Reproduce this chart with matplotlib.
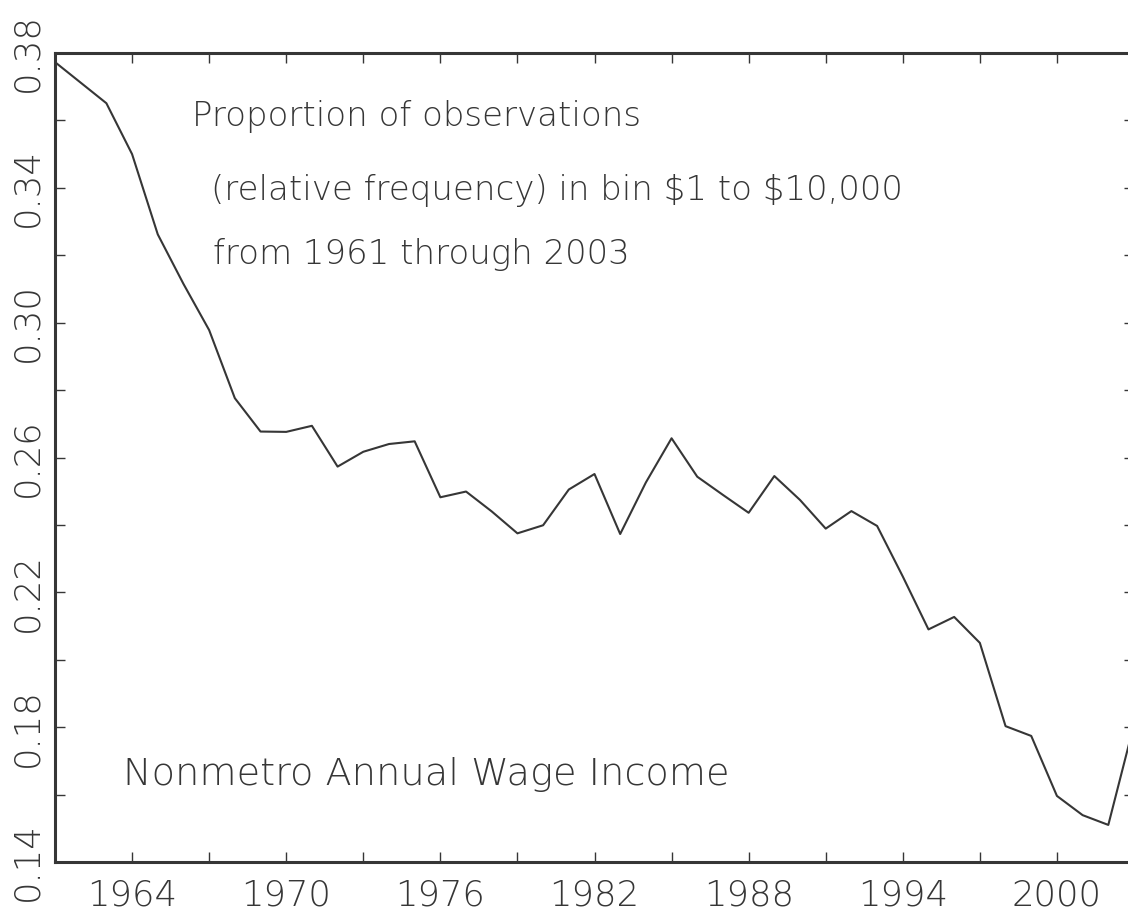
import matplotlib
matplotlib.use("Agg")
import matplotlib.pyplot as plt
import numpy as np

# proportion of nonmetro wage earners in bin $1 to $10,000
years = list(range(1961, 2004))
share = [0.3773, 0.3712, 0.3651, 0.3500, 0.3262, 0.3115, 0.2978, 0.2776, 0.2677, 0.2676,
         0.2694, 0.2573, 0.2617, 0.2640, 0.2648, 0.2482, 0.2499, 0.2440, 0.2375, 0.2399,
         0.2505, 0.2551, 0.2373, 0.2526, 0.2657, 0.2543, 0.2489, 0.2436, 0.2545, 0.2474,
         0.2389, 0.2441, 0.2397, 0.2247, 0.2090, 0.2127, 0.2050, 0.1803, 0.1774, 0.1596,
         0.1539, 0.1510, 0.1808]

xtick_pos = list(range(1961, 2004, 3))
xtick_lab = ["" if (y - 1964) % 6 else str(y) for y in xtick_pos]
ytick_pos = [round(0.14 + 0.02 * i, 2) for i in range(13)]
ytick_lab = ["%.2f" % v if i % 2 == 0 else "" for i, v in enumerate(ytick_pos)]

title_lines = ["Proportion of observations",
               "(relative frequency) in bin $1 to $10,000",
               "from 1961 through 2003"]
note = "Nonmetro Annual Wage Income"

ink = "#363636"
W, H = 1128, 916
thin = 200  # extra light if the font has it

fig = plt.figure(figsize=(W / 100, H / 100), dpi=100)
ax = fig.add_axes([55 / W, 1 - 862 / H, (1134 - 55) / W, (862 - 53) / H])

ax.plot(years, share, color=ink, lw=1.5)

ax.set_xlim(1961, 2003)
ax.set_ylim(0.14, 0.38)
ax.set_xticks(xtick_pos)
ax.set_xticklabels(xtick_lab, fontweight=thin)
ax.set_yticks(ytick_pos)
ax.set_yticklabels(ytick_lab, rotation=90, va="center", fontweight=thin)

ax.tick_params(direction="in", length=7, width=1, color=ink, top=True, right=True,
               labelsize=25.5, labelcolor=ink)
ax.tick_params(axis="x", pad=12)
ax.tick_params(axis="y", pad=7.5)
for s in ax.spines.values():
    s.set_linewidth(2.2)
    s.set_color(ink)

# annotation text, placed in figure pixels
px = lambda x, y: (x / W, 1 - y / H)
kw = dict(color=ink, va="baseline", fontweight=thin, parse_math=False)
fig.text(*px(192, 126), title_lines[0], fontsize=24.5, **kw)
fig.text(*px(211, 200), title_lines[1], fontsize=24.5, **kw)
fig.text(*px(213, 264), title_lines[2], fontsize=24.5, **kw)
fig.text(*px(123, 785), note, fontsize=27.5, **kw)

fig.savefig("out.png", dpi=100)
